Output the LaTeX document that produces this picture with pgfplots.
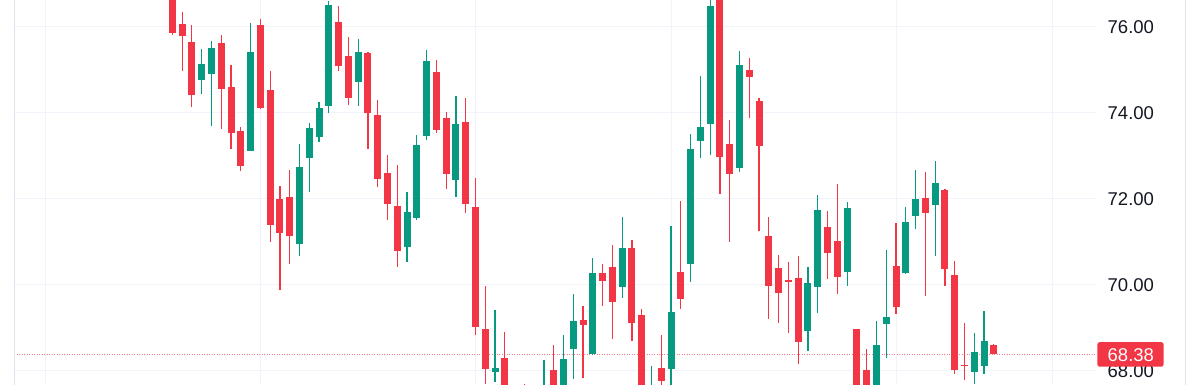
\documentclass[border=0pt]{standalone}
\usepackage{pgfplots}
\pgfplotsset{compat=1.18}
\usepackage{pgfplotstable}
\usepackage{fontspec}
\setmainfont{Liberation Sans}
\definecolor{tvgreen}{RGB}{8,153,129}
\definecolor{tvred}{RGB}{242,54,69}
\definecolor{tvtext}{RGB}{19,23,34}
\definecolor{tvgrid}{RGB}{240,243,250}
\definecolor{tvborder}{RGB}{224,227,235}

\pgfplotstableread{
x o h l c
3 74.75 75.47 74.43 75.12
4 74.88 75.66 73.68 75.49
8 73.11 76.07 73.10 75.41
13 70.94 73.26 70.67 72.74
14 72.94 73.75 72.16 73.63
15 73.43 74.24 73.32 74.11
16 74.16 76.59 73.98 76.50
19 74.71 75.70 74.16 75.40
24 70.88 72.15 70.53 71.68
25 71.55 73.47 71.51 73.25
26 73.46 75.45 73.37 75.19
29 72.43 74.39 72.04 73.72
33 67.98 69.42 67.74 68.07
37 67.10 67.50 66.90 67.40
38 67.20 68.24 67.00 67.60
40 67.50 68.84 67.30 68.28
41 68.50 69.79 67.81 69.15
43 68.38 70.61 68.37 70.26
46 69.95 71.58 69.69 70.84
49 67.20 68.12 67.00 67.55
51 68.04 71.36 67.50 69.37
53 70.47 73.49 70.06 73.15
54 73.33 74.84 72.94 73.67
55 73.74 76.80 73.01 76.46
58 72.71 75.43 72.62 75.09
65 68.92 70.40 68.46 70.03
66 69.95 72.09 69.35 71.74
69 70.30 71.91 69.97 71.77
72 67.30 69.16 67.10 68.60
73 69.09 70.80 68.30 69.26
75 70.26 71.81 70.25 71.46
76 71.59 72.67 71.29 71.98
78 71.85 72.87 70.66 72.35
82 67.97 68.87 67.70 68.43
83 68.11 69.39 67.93 68.69
}\greendata

\pgfplotstableread{
x o h l c
0 76.90 77.00 75.80 75.84
1 76.05 76.32 74.96 75.78
2 75.64 76.02 74.13 74.40
5 75.62 75.80 73.62 74.54
6 74.59 75.10 73.14 73.53
7 73.57 73.66 72.64 72.75
9 76.02 76.16 74.07 74.11
10 74.53 74.96 70.99 71.38
11 71.98 72.29 69.88 71.19
12 72.03 72.66 70.49 71.14
17 76.11 76.47 74.96 75.07
18 75.31 75.76 74.17 74.33
20 75.38 75.40 73.16 73.98
21 73.94 74.29 72.26 72.45
22 72.60 73.01 71.51 71.88
23 71.83 72.77 70.41 70.79
27 74.94 75.21 73.51 73.60
28 73.87 74.01 72.22 72.57
30 73.77 74.33 71.67 71.88
31 71.81 72.48 68.84 69.02
32 68.98 69.98 67.70 68.04
34 68.29 68.89 67.30 67.45
35 67.40 67.60 66.80 67.00
36 67.55 67.69 66.90 67.20
39 68.02 68.59 67.20 67.40
42 69.19 69.50 67.84 69.07
44 70.27 70.49 69.50 70.08
45 70.42 70.93 68.73 69.60
47 70.84 71.03 68.69 69.11
48 69.29 69.44 67.20 67.40
50 68.07 68.82 67.40 67.76
52 70.29 71.94 69.43 69.67
56 76.90 77.00 72.11 72.96
57 73.26 73.82 71.00 72.57
59 74.98 75.26 73.86 74.83
60 74.26 74.33 71.24 73.22
61 71.14 71.57 69.20 69.98
62 70.39 70.68 69.12 69.80
63 70.10 70.52 68.88 70.07
64 70.16 70.67 68.16 68.68
67 71.34 71.71 70.13 70.74
68 71.01 72.34 69.78 70.17
70 68.98 68.98 67.20 67.40
71 68.02 68.51 67.20 67.50
74 70.43 71.43 69.31 69.48
77 72.01 72.61 69.74 71.67
79 72.19 72.23 69.98 70.36
80 70.23 70.56 67.93 68.02
81 68.13 69.12 67.78 68.10
84 68.61 68.62 68.38 68.38
}\reddata

\begin{document}
\begin{tikzpicture}
\path[use as bounding box] (0,0) rectangle (1200pt,385pt);
\begin{axis}[
  at={(14pt,0pt)}, anchor=south west,
  scale only axis, width=1082pt, height=385pt,
  xmin=-16.19, xmax=94.45, ymin=67.67, ymax=76.61,
  axis line style={draw=none},
  xtick={-13,9,31,51,74,90}, xticklabels={},
  ytick={68,70,72,74,76}, yticklabels={68.00,70.00,72.00,74.00,76.00},
  yticklabel pos=right,
  major tick length=0pt,
  xmajorgrids, ymajorgrids,
  grid style={tvgrid, line width=1pt},
  yticklabel style={anchor=west, inner sep=0pt, xshift=11.5pt, yshift=-0.5pt, font=\fontsize{18.5}{20}\selectfont, text=tvtext},
  clip mode=individual,
  candle/.style={draw=none, mark=none, error bars/.cd, y dir=plus, y explicit, error mark=none},
]
\addplot[tvred!65, line width=1pt, dash pattern=on 1pt off 1.5pt] coordinates {(-16.19,68.38) (94.45,68.38)};
% wicks
\addplot[candle, error bar style={tvgreen, line width=1.2pt}]
  table[x=x, y=l, y error plus expr=\thisrow{h}-\thisrow{l}] {\greendata};
\addplot[candle, error bar style={tvred, line width=1.2pt}]
  table[x=x, y=l, y error plus expr=\thisrow{h}-\thisrow{l}] {\reddata};
% bodies
\addplot[candle, error bar style={tvgreen, line width=7pt}]
  table[x=x, y=o, y error plus expr=\thisrow{c}-\thisrow{o}] {\greendata};
\addplot[candle, error bar style={tvred, line width=7pt}]
  table[x=x, y=c, y error plus expr=\thisrow{o}-\thisrow{c}] {\reddata};
\coordinate (lp) at (axis cs:94.45,68.38);
\end{axis}
\node[fill=tvred, rounded corners=2pt, minimum width=66pt, minimum height=24.4pt, inner sep=0pt, anchor=west] at ([xshift=1.3pt]lp) {};
\node[anchor=west, inner sep=0pt, text=white, font=\fontsize{18.5}{20}\selectfont] at ([xshift=11.5pt,yshift=-0.5pt]lp) {68.38};
\draw[tvborder, line width=1pt] (14pt,0) -- (14pt,385pt);
\draw[tvborder, line width=1pt] (1185pt,0) -- (1185pt,385pt);
\end{tikzpicture}
\end{document}
